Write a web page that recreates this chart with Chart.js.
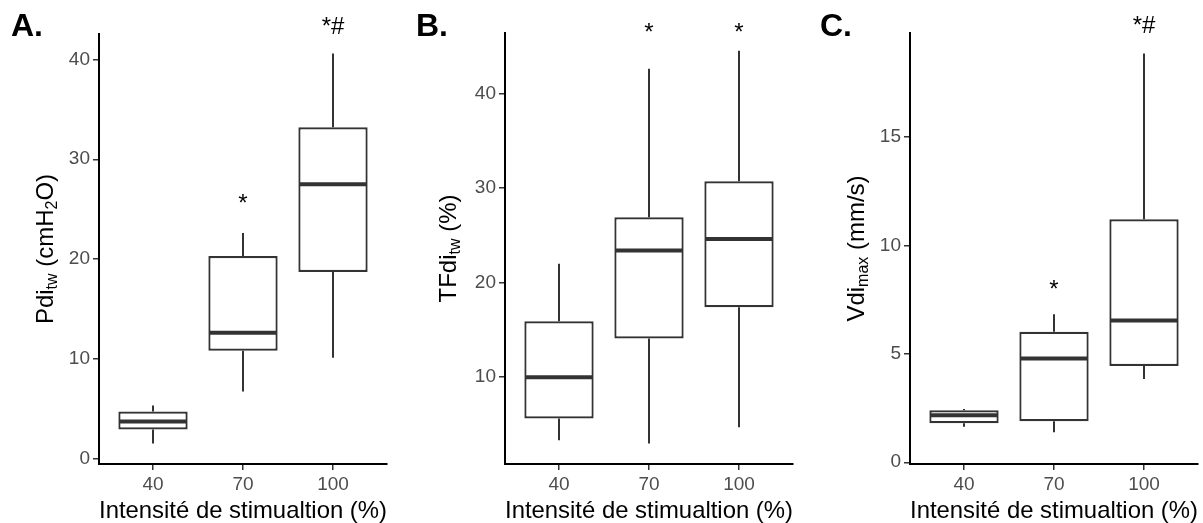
<!DOCTYPE html>
<html><head><meta charset="utf-8">
<script src="https://cdn.jsdelivr.net/npm/chart.js@4"></script>
<style>
html,body{margin:0;padding:0;background:#fff;}
#wrap{position:relative;width:1203px;height:523px;overflow:hidden;}
canvas{position:absolute;top:0;}
</style></head><body>
<div id="wrap">
<canvas id="cA" width="400" height="523" style="left:0px"></canvas>
<canvas id="cB" width="400" height="523" style="left:400px"></canvas>
<canvas id="cC" width="403" height="523" style="left:800px"></canvas>
</div>
<script>
// ---------- DATA ----------
const categories = ['40', '70', '100'];

// A. Pdi_tw (cmH2O)
const pdiMin = [1.5, 6.7, 10.1];
const pdiQ1  = [2.9, 10.8, 18.7];
const pdiMed = [3.7, 12.6, 27.5];
const pdiQ3  = [4.7, 20.3, 33.2];
const pdiMax = [5.3, 22.6, 40.6];
const pdiTicks = [0, 10, 20, 30, 40];
const pdiMarks = ['', '*', '*#'];
const pdiMarkY = [null, 24.8, 42.6];

// B. TFdi_tw (%)
const tfMin = [3.35, 3.0, 4.7];
const tfQ1  = [5.65, 14.1, 17.4];
const tfMed = [10.0, 23.4, 24.6];
const tfQ3  = [15.9, 26.9, 30.7];
const tfMax = [22.0, 42.6, 44.5];
const tfTicks = [10, 20, 30, 40];
const tfMarks = ['', '*', '*'];
const tfMarkY = [null, 45.6, 45.6];

// C. Vdi_max (mm/s)
const vdiMin = [1.64, 1.38, 3.84];
const vdiQ1  = [1.80, 1.89, 4.44];
const vdiMed = [2.17, 4.79, 6.54];
const vdiQ3  = [2.40, 6.02, 11.21];
const vdiMax = [2.46, 6.83, 18.85];
const vdiTicks = [0, 5, 10, 15];
const vdiMarks = ['', '*', '*#'];
const vdiMarkY = [null, 7.62, 19.78];

const xTitle = 'Intensité de stimualtion (%)';
const yTitleA = [['Pdi', 0], ['tw', 1], [' (cmH', 0], ['2', 1], ['O)', 0]];
const yTitleB = [['TFdi', 0], ['tw', 1], [' (%)', 0]];
const yTitleC = [['Vdi', 0], ['max', 1], [' (mm/s)', 0]];

// ---------- RENDERING ----------
const FONT = '"Liberation Sans", Arial, Helvetica, sans-serif';
const LINE = '#333333';

const boxExtras = {
  id: 'boxExtras',
  beforeDatasetsDraw(chart, args, o) {
    const {ctx, scales: {x, y}} = chart;
    ctx.save();
    ctx.strokeStyle = LINE;
    ctx.lineWidth = 2;
    for (let i = 0; i < o.lo.length; i++) {
      const px = x.getPixelForValue(i + 1);
      ctx.beginPath();
      ctx.moveTo(px, y.getPixelForValue(o.hi[i]));
      ctx.lineTo(px, y.getPixelForValue(o.q3[i]));
      ctx.moveTo(px, y.getPixelForValue(o.q1[i]));
      ctx.lineTo(px, y.getPixelForValue(o.lo[i]));
      ctx.stroke();
    }
    ctx.restore();
  },
  afterDatasetsDraw(chart, args, o) {
    const {ctx, scales: {x, y}} = chart;
    const meta = chart.getDatasetMeta(0);
    ctx.save();
    ctx.strokeStyle = LINE;
    ctx.lineWidth = 4;
    for (let i = 0; i < o.med.length; i++) {
      const bar = meta.data[i];
      const half = bar.width / 2;
      const px = x.getPixelForValue(i + 1);
      const py = y.getPixelForValue(o.med[i]);
      ctx.beginPath();
      ctx.moveTo(px - half + 1, py);
      ctx.lineTo(px + half - 1, py);
      ctx.stroke();
    }
    // significance marks
    ctx.fillStyle = '#000';
    ctx.font = '24px ' + FONT;
    ctx.textAlign = 'center';
    ctx.textBaseline = 'alphabetic';
    for (let i = 0; i < o.marks.length; i++) {
      if (!o.marks[i]) continue;
      ctx.fillText(o.marks[i], x.getPixelForValue(i + 1), y.getPixelForValue(o.markY[i]));
    }
    // y title with subscripts
    const ca = chart.chartArea;
    const cy = (ca.top + ca.bottom) / 2;
    const big = '24px ' + FONT, small = '16px ' + FONT;
    let total = 0;
    o.yTitle.forEach(([t, s]) => { ctx.font = s ? small : big; total += ctx.measureText(t).width; });
    ctx.save();
    ctx.translate(o.yTitleX, cy);
    ctx.rotate(-Math.PI / 2);
    ctx.textAlign = 'left';
    ctx.textBaseline = 'middle';
    let cx = -total / 2;
    o.yTitle.forEach(([t, s]) => {
      ctx.font = s ? small : big;
      ctx.fillText(t, cx, s ? 7 : 0);
      cx += ctx.measureText(t).width;
    });
    ctx.restore();
    // panel letter
    ctx.font = 'bold 32px ' + FONT;
    ctx.textAlign = 'left';
    ctx.textBaseline = 'alphabetic';
    ctx.fillText(o.letter, o.letterX, 36);
    ctx.restore();
  }
};

function makePanel(id, p) {
  new Chart(document.getElementById(id), {
    type: 'bar',
    data: {
      datasets: [{
        data: categories.map((c, i) => ({x: i + 1, y: [p.q1[i], p.q3[i]]})),
        backgroundColor: '#ffffff',
        borderColor: LINE,
        borderWidth: 2.2,
        borderSkipped: false,
        barPercentage: 0.77,
        categoryPercentage: 1.0
      }]
    },
    options: {
      responsive: false,
      animation: false,
      events: [],
      layout: {padding: {left: 0, right: p.rightPad, top: p.top, bottom: 0}},
      plugins: {
        legend: {display: false},
        tooltip: {enabled: false},
        boxExtras: p
      },
      scales: {
        x: {
          type: 'linear',
          offset: false,
          min: 0.4, max: 3.6,
          afterBuildTicks: s => { s.ticks = categories.map((c, i) => ({value: i + 1})); },
          afterFit: s => { s.height = 59; },
          ticks: {
            callback: (v) => categories[Math.round(v) - 1],
            font: {family: FONT, size: 19}, color: '#4D4D4D', padding: 3, maxRotation: 0
          },
          grid: {display: true, offset: false, drawOnChartArea: false, drawTicks: true, tickLength: 6, color: LINE, lineWidth: 1.5},
          border: {display: true, color: '#000', width: 2},
          title: {display: true, text: xTitle, font: {family: FONT, size: 24}, color: '#000', padding: {top: 0, bottom: -3}}
        },
        y: {
          type: 'linear',
          min: p.min, max: p.max,
          afterBuildTicks: s => { s.ticks = p.ticks.map(v => ({value: v})); },
          afterFit: s => { s.width = p.yWidth; },
          ticks: {font: {family: FONT, size: 19}, color: '#4D4D4D', padding: 3},
          grid: {display: true, drawOnChartArea: false, drawTicks: true, tickLength: 6, color: LINE, lineWidth: 1.5},
          border: {display: true, color: '#000', width: 2}
        }
      }
    },
    plugins: [boxExtras]
  });
}

makePanel('cA', {lo: pdiMin, q1: pdiQ1, med: pdiMed, q3: pdiQ3, hi: pdiMax, ticks: pdiTicks,
  marks: pdiMarks, markY: pdiMarkY, min: -0.56, max: 42.56, yTitle: yTitleA, yTitleX: 46,
  letter: 'A.', letterX: 11, yWidth: 99, rightPad: 13, top: 34});
makePanel('cB', {lo: tfMin, q1: tfQ1, med: tfMed, q3: tfQ3, hi: tfMax, ticks: tfTicks,
  marks: tfMarks, markY: tfMarkY, min: 0.83, max: 46.37, yTitle: yTitleB, yTitleX: 49,
  letter: 'B.', letterX: 16, yWidth: 105, rightPad: 7, top: 33});
makePanel('cC', {lo: vdiMin, q1: vdiQ1, med: vdiMed, q3: vdiQ3, hi: vdiMax, ticks: vdiTicks,
  marks: vdiMarks, markY: vdiMarkY, min: -0.08, max: 19.8, yTitle: yTitleC, yTitleX: 57,
  letter: 'C.', letterX: 20, yWidth: 110, rightPad: 5, top: 33});
</script>
</body></html>
